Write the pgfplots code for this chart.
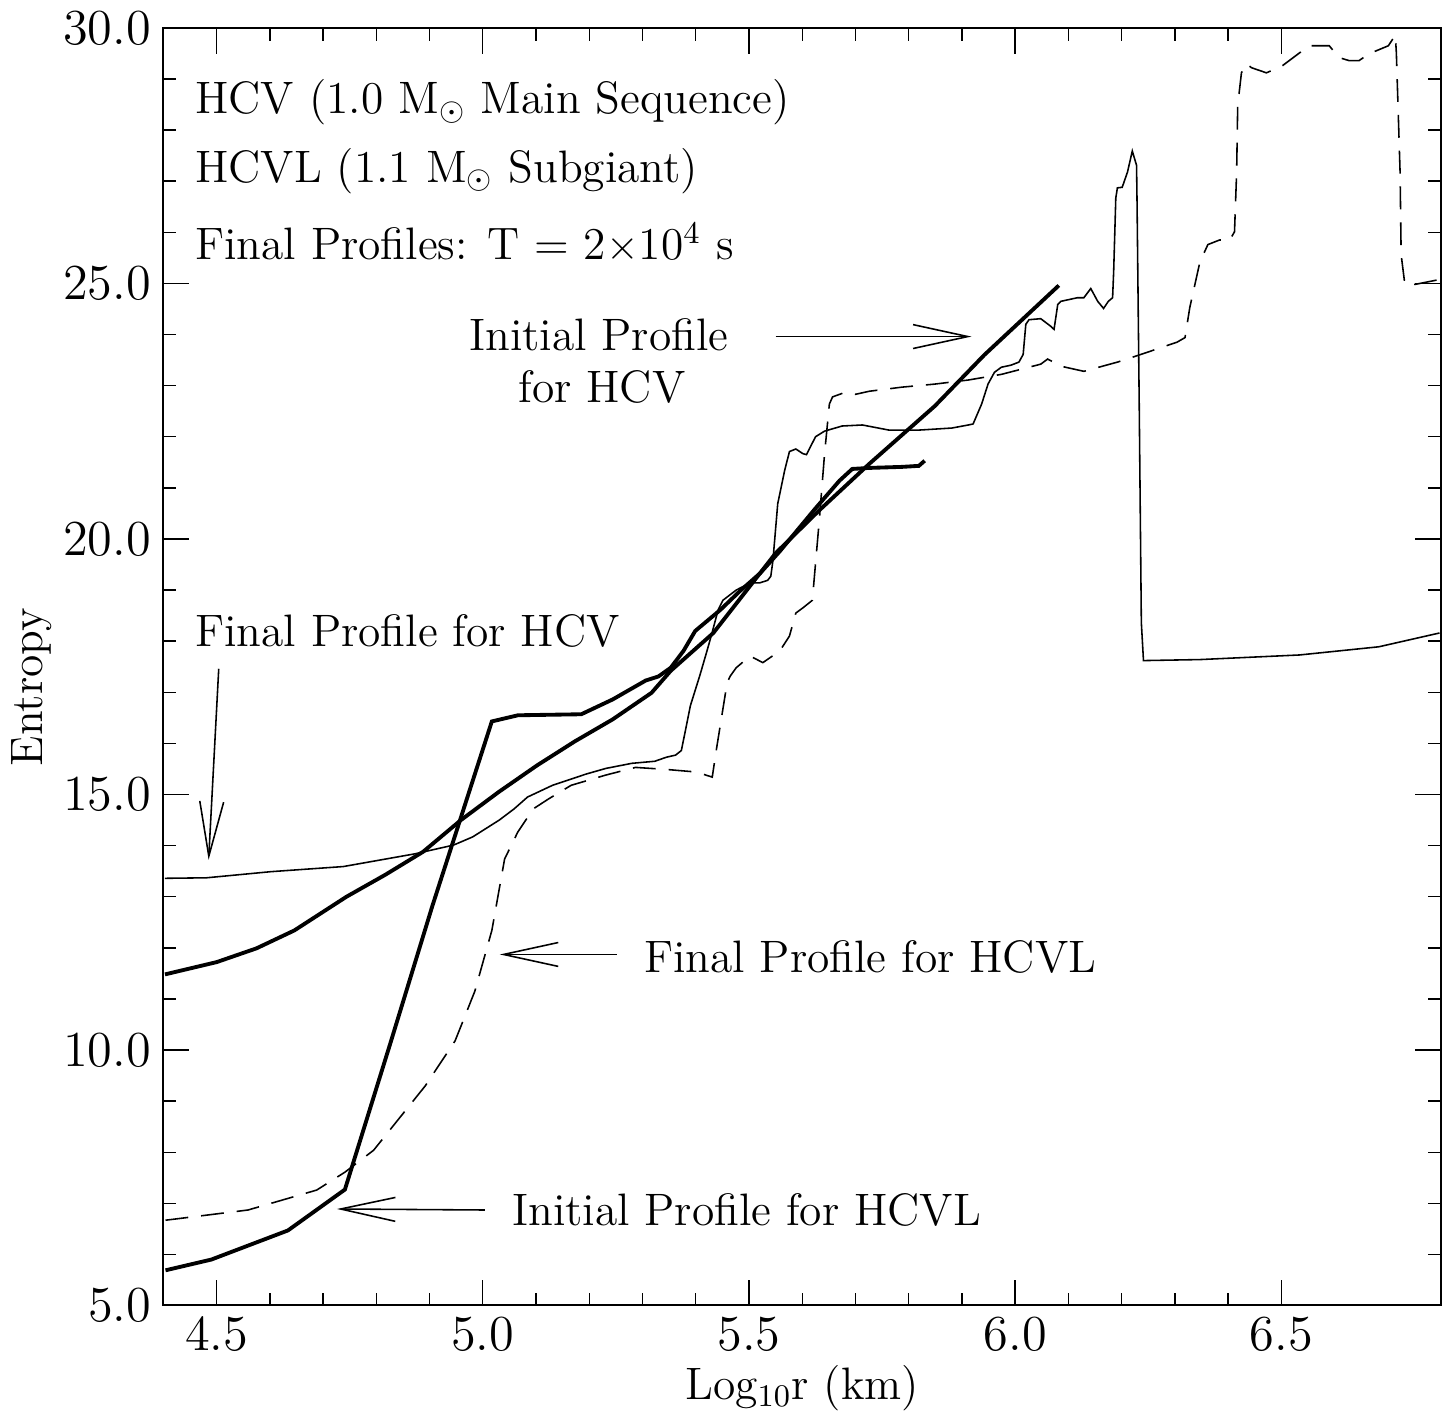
\documentclass[border=0pt]{standalone}
\usepackage{pgfplots}
\pgfplotsset{compat=1.18}
\usetikzlibrary{arrows.meta}
\begin{document}
\begin{tikzpicture}
\begin{axis}[
  scale only axis, width=12.84cm, height=12.84cm,
  xmin=4.4, xmax=6.8, ymin=5, ymax=30,
  xtick={4.5,5.0,5.5,6.0,6.5}, ytick={5,10,15,20,25,30},
  minor x tick num=4, minor y tick num=4,
  tick align=inside,
  major tick length=2.6mm, minor tick length=1.3mm,
  tick style={line width=0.4pt, black},
  axis line style={line width=0.5pt},
  xticklabel style={/pgf/number format/.cd, fixed, fixed zerofill, precision=1},
  yticklabel style={/pgf/number format/.cd, fixed, fixed zerofill, precision=1},
  tick label style={font=\fontsize{15}{17}\selectfont},
  label style={font=\fontsize{13}{15}\selectfont},
  xlabel={Log$_{10}$r (km)},
  ylabel={Entropy},
  xlabel style={at={(axis description cs:0.5,-0.065)}, anchor=center},
  ylabel style={at={(axis description cs:-0.103,0.484)}, anchor=center},
  clip=true,
]
% Initial profile HCV (thick smooth)
\addplot[black, line width=1.1pt] coordinates {
(4.403,11.48) (4.500,11.72) (4.575,11.99) (4.646,12.34) (4.744,13.00) (4.817,13.43)
(4.888,13.88) (4.959,14.50) (5.030,15.05) (5.102,15.57) (5.173,16.04) (5.244,16.47)
(5.317,16.99) (5.353,17.42) (5.433,18.16) (5.550,19.72) (5.632,20.56) (5.726,21.47)
(5.849,22.60) (5.942,23.60) (6.082,24.96)};
% Initial profile HCVL (thick)
\addplot[black, line width=1.1pt] coordinates {
(4.404,5.69) (4.490,5.90) (4.634,6.47) (4.741,7.27) (4.826,10.12) (4.905,12.81)
(5.017,16.43) (5.066,16.55) (5.185,16.57) (5.244,16.86) (5.306,17.23) (5.330,17.31)
(5.353,17.48) (5.377,17.81) (5.399,18.20) (5.446,18.61) (5.483,18.98) (5.521,19.33)
(5.558,19.76) (5.625,20.60) (5.670,21.14) (5.694,21.37) (5.726,21.39) (5.787,21.41)
(5.819,21.43) (5.830,21.53)};
% Final profile HCV (thin solid)
\addplot[black, line width=0.45pt] coordinates {
(4.403,13.36) (4.481,13.37) (4.602,13.49) (4.738,13.59) (4.873,13.84) (4.945,14.01)
(4.981,14.17) (5.031,14.50) (5.059,14.72) (5.084,14.95) (5.131,15.18) (5.194,15.40)
(5.231,15.51) (5.280,15.61) (5.323,15.65) (5.345,15.73) (5.362,15.77) (5.373,15.86)
(5.390,16.74) (5.408,17.34) (5.420,17.77) (5.429,18.10) (5.442,18.61) (5.451,18.80)
(5.476,19.00) (5.502,19.14) (5.520,19.14) (5.535,19.19) (5.541,19.27) (5.545,19.58)
(5.554,20.69) (5.567,21.34) (5.576,21.71) (5.588,21.76) (5.601,21.67) (5.608,21.65)
(5.625,22.00) (5.642,22.11) (5.675,22.21) (5.713,22.23) (5.763,22.13) (5.819,22.13)
(5.881,22.17) (5.912,22.23) (5.921,22.25) (5.937,22.64) (5.949,23.03) (5.961,23.26)
(5.974,23.36) (5.992,23.40) (6.007,23.46) (6.015,23.61) (6.020,24.20) (6.026,24.29)
(6.048,24.31) (6.067,24.16) (6.073,24.10) (6.080,24.59) (6.086,24.65) (6.117,24.72)
(6.129,24.72) (6.142,24.90) (6.155,24.65) (6.166,24.51) (6.175,24.65) (6.183,24.72)
(6.185,25.23) (6.189,26.67) (6.192,26.87) (6.201,26.88) (6.211,27.18) (6.220,27.59)
(6.228,27.31) (6.229,26.53) (6.233,22.64) (6.237,18.36) (6.241,17.62) (6.347,17.64)
(6.534,17.73) (6.683,17.89) (6.797,18.16)};
% Final profile HCVL (dashed)
\addplot[black, line width=0.45pt, dash pattern=on 2.3mm off 1.3mm] coordinates {
(4.404,6.67) (4.559,6.87) (4.688,7.26) (4.741,7.61) (4.795,8.04) (4.892,9.30)
(4.948,10.18) (4.985,11.15) (5.017,12.34) (5.041,13.74) (5.066,14.27) (5.095,14.72)
(5.123,14.91) (5.166,15.18) (5.231,15.38) (5.287,15.53) (5.345,15.49) (5.401,15.44)
(5.431,15.34) (5.438,15.83) (5.459,17.19) (5.465,17.32) (5.476,17.48) (5.502,17.71)
(5.526,17.58) (5.558,17.81) (5.576,18.10) (5.588,18.55) (5.601,18.65) (5.619,18.80)
(5.632,20.36) (5.642,21.67) (5.651,22.64) (5.657,22.78) (5.681,22.87) (5.700,22.83)
(5.726,22.89) (5.787,22.97) (5.849,23.03) (5.912,23.11) (5.974,23.22) (6.048,23.42)
(6.061,23.52) (6.086,23.38) (6.129,23.28) (6.192,23.46) (6.216,23.54) (6.253,23.67)
(6.304,23.85) (6.319,23.94) (6.328,24.53) (6.347,25.42) (6.362,25.76) (6.384,25.85)
(6.403,25.85) (6.412,26.01) (6.416,27.18) (6.418,28.48) (6.425,29.12) (6.434,29.30)
(6.444,29.22) (6.472,29.12) (6.502,29.26) (6.552,29.65) (6.571,29.65) (6.590,29.65)
(6.608,29.42) (6.627,29.36) (6.646,29.36) (6.664,29.49) (6.701,29.65) (6.711,29.81)
(6.714,29.86) (6.716,29.51) (6.723,27.18) (6.725,25.56) (6.732,24.98) (6.751,24.98)
(6.794,25.07)};
% annotations
\begin{scope}[font=\fontsize{13}{15}\selectfont]
\node[anchor=west, inner sep=0pt] at (axis cs:4.459,28.54) {HCV (1.0 M$_\odot$ Main Sequence)};
\node[anchor=west, inner sep=0pt] at (axis cs:4.459,27.20) {HCVL (1.1 M$_\odot$ Subgiant)};
\node[anchor=west, inner sep=0pt] at (axis cs:4.459,25.79) {Final Profiles: T = 2$\times$10$^4$ s};
\node[inner sep=0pt] at (axis cs:5.218,24.00) {Initial Profile};
\node[inner sep=0pt] at (axis cs:5.224,22.97) {for HCV};
\node[anchor=west, inner sep=0pt] at (axis cs:4.459,18.20) {Final Profile for HCV};
\node[anchor=west, inner sep=0pt] at (axis cs:5.302,11.83) {Final Profile for HCVL};
\node[anchor=west, inner sep=0pt] at (axis cs:5.054,6.87) {Initial Profile for HCVL};
\end{scope}
\begin{scope}[line width=0.45pt, -{Straight Barb[length=5.5mm,width=2.4mm,line width=0.45pt]}]
\draw (axis cs:5.550,23.96) -- (axis cs:5.918,23.96);
\draw (axis cs:4.504,17.46) -- (axis cs:4.485,13.72);
\draw (axis cs:5.252,11.87) -- (axis cs:5.032,11.87);
\draw (axis cs:5.004,6.87) -- (axis cs:4.726,6.89);
\end{scope}
\draw[line width=0.8pt] (rel axis cs:0,0) -- (rel axis cs:1,0);
\draw[line width=0.8pt] (rel axis cs:0,1) -- (rel axis cs:1,1);
\end{axis}
\path ([xshift=1.3mm]current axis.east);
\end{tikzpicture}
\end{document}
